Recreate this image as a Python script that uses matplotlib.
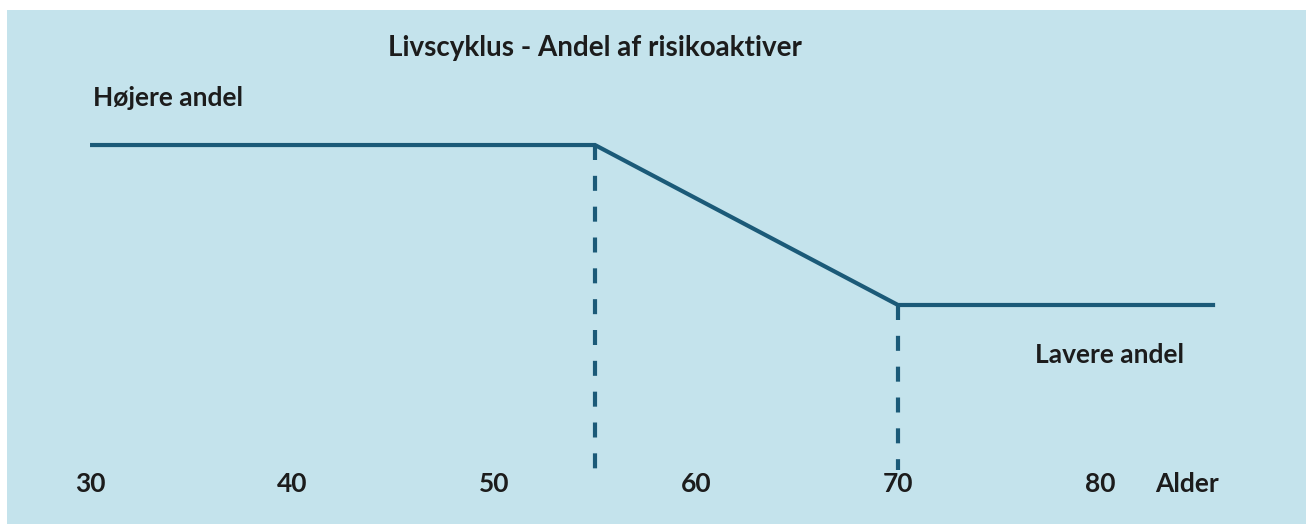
import matplotlib.pyplot as plt
from matplotlib.lines import Line2D

# =========================
# DATA
# =========================
ages = [30, 55, 70, 85.7]          # knee points of the glide path
share = [1.0, 1.0, 0.0, 0.0]       # 1 = higher share, 0 = lower share
knees = [55, 70]                   # where the dashed markers drop
knee_share = [1.0, 0.0]
tick_ages = [30, 40, 50, 60, 70, 80]
tick_labels = ["30", "40", "50", "60", "70", "80"]

TITLE = "Livscyklus - Andel af risikoaktiver"
HIGH_LABEL = "Højere andel"
LOW_LABEL = "Lavere andel"
AXIS_LABEL = "Alder"

# =========================
# STYLE
# =========================
BG = "#c4e3ec"
LINE = "#1b5a78"
TXT = "#1c1c1c"
FS = 19
plt.rcParams["font.family"] = ["Lato", "DejaVu Sans"]

fig = plt.figure(figsize=(13.06, 5.24), dpi=100, facecolor="white")
ax = fig.add_axes([7 / 1306, 0, 1299 / 1306, 514 / 524])
ax.set_facecolor(BG)
for s in ax.spines.values():
    s.set_visible(False)
ax.set_xticks([]); ax.set_yticks([])

# roughly 20.2 px per year, age 30 at x=90px; 160 px between high and low
ax.set_xlim(25.89, 90.2)
ax.set_ylim(-1.369, 1.844)

ax.plot(ages, share, color=LINE, lw=3, solid_capstyle="butt", solid_joinstyle="miter")

bottom = -1.031
for a, s in zip(knees, knee_share):
    ax.add_line(Line2D([a, a], [s, bottom], color=LINE, lw=3,
                       linestyle=(0, (3.6, 3.8)), dash_capstyle="butt"))

for a, lab in zip(tick_ages, tick_labels):
    ax.text(a, -1.12, lab, ha="center", va="center", fontsize=FS,
            fontweight="bold", color=TXT)
ax.text(84.3, -1.12, AXIS_LABEL, ha="center", va="center", fontsize=FS,
        fontweight="bold", color=TXT)

ax.text(55.0, 1.609, TITLE, ha="center", va="center", fontsize=FS + 1,
        fontweight="bold", color=TXT)
ax.text(30.15, 1.297, HIGH_LABEL, ha="left", va="center", fontsize=FS,
        fontweight="bold", color=TXT)
ax.text(76.8, -0.3125, LOW_LABEL, ha="left", va="center", fontsize=FS,
        fontweight="bold", color=TXT)

fig.savefig("out.png", dpi=100, facecolor="white")
